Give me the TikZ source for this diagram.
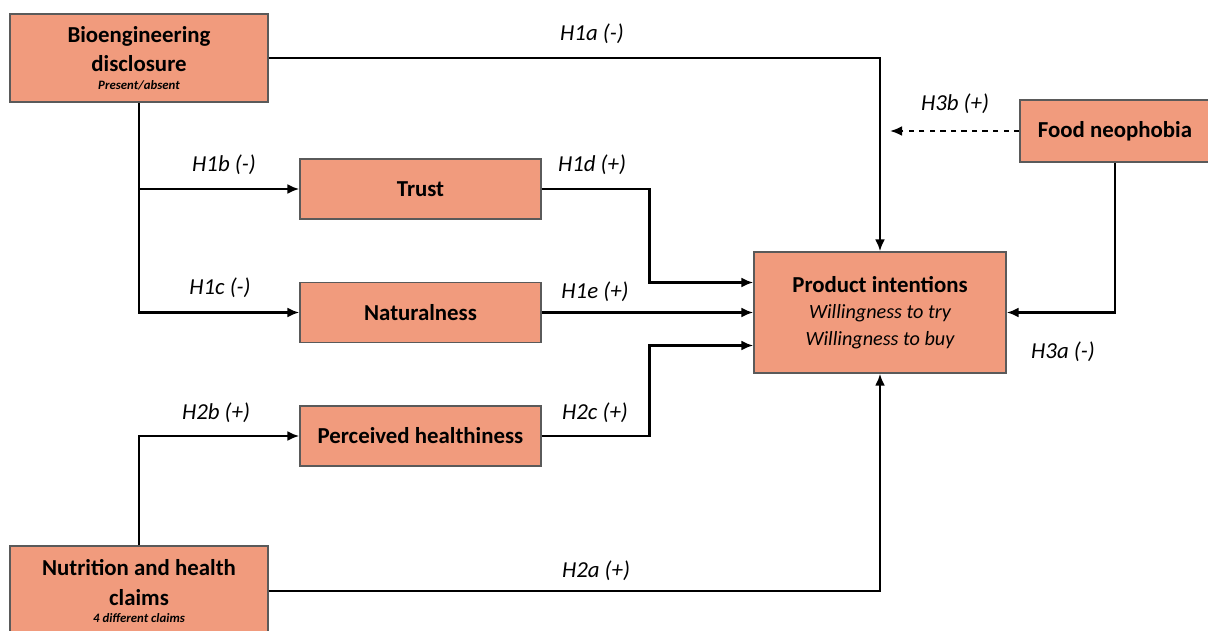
\documentclass[tikz,border=0pt]{standalone}
\usepackage{fontspec}
\setmainfont{Carlito}
\usetikzlibrary{arrows.meta,positioning,calc}

\definecolor{boxfill}{RGB}{241,155,125}
\definecolor{boxline}{RGB}{90,90,90}

\tikzset{
  var/.style={draw=boxline,fill=boxfill,line width=0.8pt,align=center,
    font=\fontsize{13}{17}\selectfont\bfseries,inner sep=2pt},
  arr/.style={-{Latex[length=2.4mm,width=2mm]},line width=1.4pt},
  hyp/.style={font=\fontsize{13}{16}\selectfont\itshape},
}

\begin{document}
\begin{tikzpicture}[x=0.02cm,y=-0.02cm]
  \useasboundingbox (0,0) rectangle (1208,630);

  % variables
  \node[var,minimum width=5.16cm,minimum height=1.76cm] (bio) at (139,58)
    {Bioengineering\\disclosure\\[-7pt]{\fontsize{7.3}{9}\selectfont\itshape Present/absent}};
  \node[var,minimum width=4.82cm,minimum height=1.2cm] (trust) at (420.5,189) {Trust};
  \node[var,minimum width=4.82cm,minimum height=1.2cm] (nat) at (420.5,312.5) {Naturalness};
  \node[var,minimum width=4.82cm,minimum height=1.2cm] (health) at (420.5,436) {Perceived healthiness};
  \node[var,minimum width=5.04cm,minimum height=2.42cm] (pi) at (880,312.5)
    {Product intentions\\[-2pt]{\fontsize{11.5}{14}\selectfont\mdseries\itshape Willingness to try}\\[-2pt]
     {\fontsize{11.5}{14}\selectfont\mdseries\itshape Willingness to buy}};
  \node[var,minimum width=3.8cm,minimum height=1.24cm] (food) at (1115,131) {Food neophobia};
  \node[var,minimum width=5.16cm,minimum height=1.8cm] (nut) at (139,591)
    {Nutrition and health\\claims\\[-7pt]{\fontsize{7.3}{9}\selectfont\itshape 4 different claims}};

  % paths
  \draw[arr] (bio.east) -| (pi.north);
  \draw[arr] (bio.south) |- (nat.west);
  \draw[arr] (bio.south |- trust.west) -- (trust.west);
  \draw[arr] (trust.east) -- ++(108,0) |- ($(pi.west)+(0,-30)$);
  \draw[arr] (nat.east) -- (pi.west);
  \draw[arr] (health.east) -- ++(108,0) |- ($(pi.west)+(0,33)$);
  \draw[arr] (nut.north) |- (health.west);
  \draw[arr] (nut.east) -| (pi.south);
  \draw[arr] (food.south) |- (pi.east);
  \coordinate (h3b) at (890,131);
  \draw[arr,dashed] (food.west) -- (h3b);

  % hypotheses
  \node[hyp] (l1a) at (592,34) {H1a (-)};
  \node[hyp] (l1b) at (224,165) {H1b (-)};
  \node[hyp] (l1c) at (220,288) {H1c (-)};
  \node[hyp] (l1d) at (592,165) {H1d (+)};
  \node[hyp] (l1e) at (595,292) {H1e (+)};
  \node[hyp] (l2b) at (216,413) {H2b (+)};
  \node[hyp] (l2c) at (595,413) {H2c (+)};
  \node[hyp] (l2a) at (596,571) {H2a (+)};
  \node[hyp] (l3b) at (955,104) {H3b (+)};
  \node[hyp] (l3a) at (1063,352) {H3a (-)};
\end{tikzpicture}
\end{document}
